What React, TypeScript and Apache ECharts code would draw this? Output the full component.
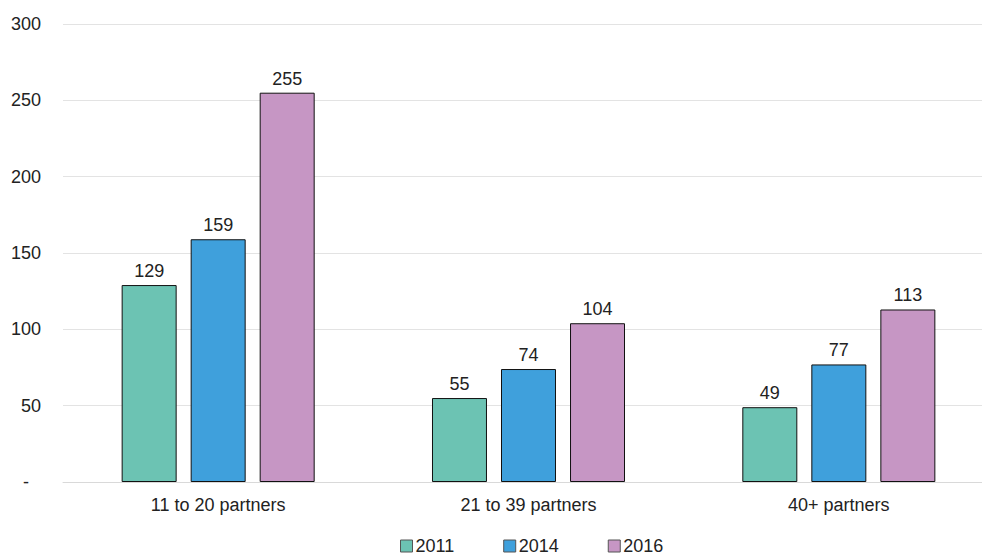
import React, { useEffect, useRef } from "react";
import * as echarts from "echarts";

const categories = ["11 to 20 partners", "21 to 39 partners", "40+ partners"];
const seriesNames = ["2011", "2014", "2016"];
const values2011 = [129, 55, 49];
const values2014 = [159, 74, 77];
const values2016 = [255, 104, 113];
const yTicks = [0, 50, 100, 150, 200, 250, 300];
const colors = ["#6cc3b3", "#3fa0dc", "#c696c4"];

export default function App() {
  const ref = useRef<HTMLDivElement>(null);
  useEffect(() => {
    if (!ref.current) return;
    const chart = echarts.init(ref.current, undefined, { renderer: "svg" });
    const data = [values2011, values2014, values2016];
    chart.setOption({
      animation: false,
      textStyle: { fontFamily: "Liberation Sans, Arial, sans-serif" },
      grid: { left: 63, right: 0, top: 24, bottom: 74 },
      legend: {
        top: 532,
        left: 395,
        itemWidth: 12,
        itemHeight: 12,
        itemGap: 49,
        icon: "rect",
        textStyle: { fontSize: 18, color: "#222", padding: [0, 0, 0, -2] },
        data: seriesNames.map((n, i) => ({
          name: n,
          itemStyle: { color: colors[i], borderColor: "#555", borderWidth: 1 },
        })),
      },
      xAxis: {
        type: "category",
        data: categories,
        axisTick: { show: false },
        axisLine: { lineStyle: { color: "#d9d9d9" } },
        axisLabel: { fontSize: 18, color: "#222", margin: 14 },
      },
      yAxis: {
        type: "value",
        min: yTicks[0],
        max: yTicks[yTicks.length - 1],
        interval: yTicks[1] - yTicks[0],
        axisLine: { show: false },
        axisTick: { show: false },
        splitLine: { lineStyle: { color: "#e3e3e3" } },
        axisLabel: {
          fontSize: 18,
          color: "#222",
          margin: 22,
          formatter: (v: number) => (v === 0 ? "{d|-}" : String(v)),
          rich: { d: { fontSize: 18, color: "#222", padding: [0, 12, 0, 0] } },
        },
      },
      series: seriesNames.map((n, i) => ({
        name: n,
        type: "bar",
        data: data[i],
        barGap: "25.5%",
        barCategoryGap: "37.8%",
        itemStyle: { color: colors[i], borderColor: "#111", borderWidth: 1 },
        label: { show: true, position: "top", fontSize: 18, color: "#222", distance: 5 },
      })),
    });
    return () => chart.dispose();
  }, []);
  return (
    <div
      style={{
        position: "absolute",
        left: 0,
        top: 0,
        width: 982,
        height: 556,
        overflow: "hidden",
      }}
    >
      <div ref={ref} style={{ width: 994, height: 556 }} />
    </div>
  );
}
